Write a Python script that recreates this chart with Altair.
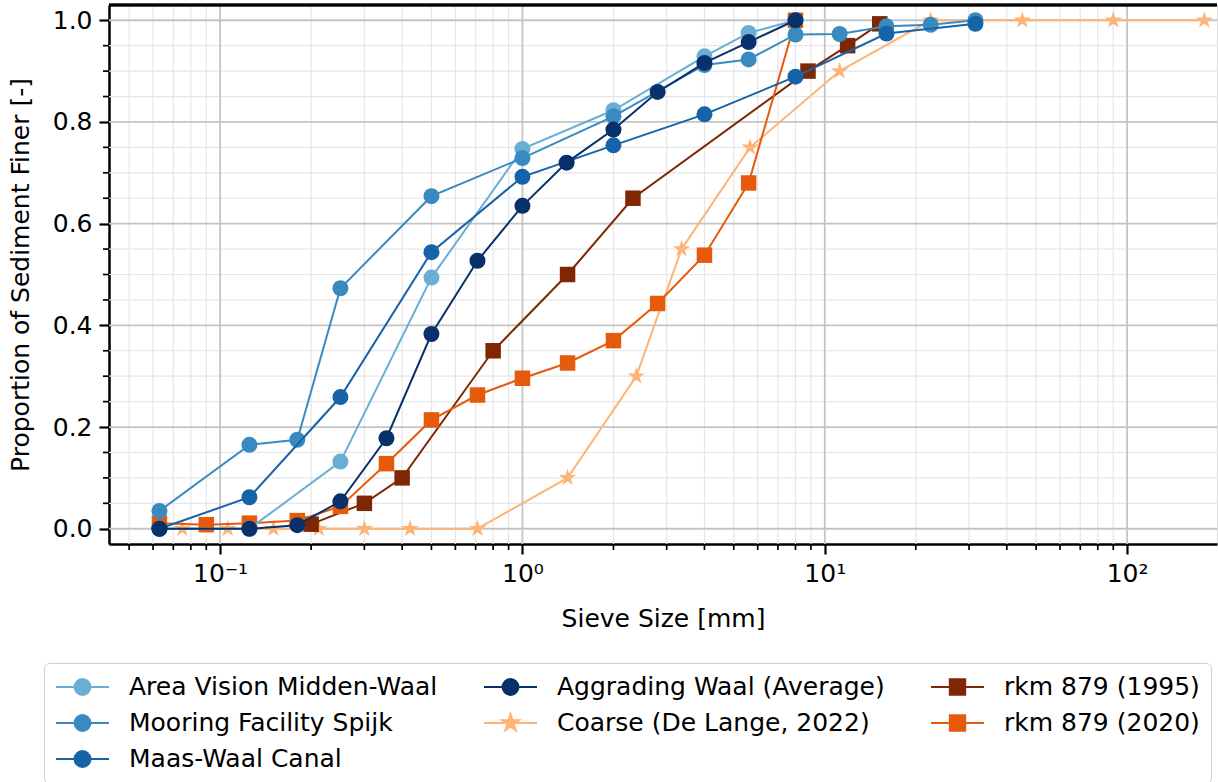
import math
import altair as alt
import pandas as pd

# ---------------------------------------------------------------------------
# Grain size distributions: sieve size [mm] vs. proportion of sediment finer
# ---------------------------------------------------------------------------
area_vision_x = [0.063, 0.125, 0.25, 0.5, 1.0, 2.0, 4.0, 5.6, 8.0]
area_vision_y = [0.0, 0.0, 0.132, 0.494, 0.747, 0.823, 0.929, 0.975, 1.0]

mooring_x = [0.063, 0.125, 0.18, 0.25, 0.5, 1.0, 2.0, 4.0, 5.6, 8.0, 11.2, 16.0, 22.4, 31.5]
mooring_y = [0.035, 0.165, 0.175, 0.473, 0.654, 0.729, 0.811, 0.912, 0.923, 0.972, 0.973, 0.988, 0.991, 1.0]

maas_waal_x = [0.063, 0.125, 0.25, 0.5, 1.0, 2.0, 4.0, 8.0, 16.0, 31.5]
maas_waal_y = [0.0, 0.062, 0.259, 0.544, 0.692, 0.754, 0.815, 0.889, 0.974, 0.993]

aggrading_x = [0.063, 0.125, 0.18, 0.25, 0.355, 0.5, 0.71, 1.0, 1.4, 2.0, 2.8, 4.0, 5.6, 8.0]
aggrading_y = [0.0, 0.0, 0.007, 0.054, 0.178, 0.383, 0.527, 0.635, 0.72, 0.785, 0.859, 0.916, 0.957, 1.0]

coarse_x = [0.075, 0.106, 0.15, 0.212, 0.3, 0.425, 0.71, 1.41, 2.38, 3.36, 5.66, 11.2, 22.4, 45.0, 90.0, 180.0]
coarse_y = [0.0, 0.0, 0.0, 0.0, 0.0, 0.0, 0.0, 0.1, 0.3, 0.55, 0.75, 0.9, 1.0, 1.0, 1.0, 1.0]

rkm1995_x = [0.2, 0.3, 0.4, 0.8, 1.41, 2.32, 8.8, 11.9, 15.2]
rkm1995_y = [0.009, 0.05, 0.1, 0.35, 0.5, 0.65, 0.9, 0.95, 0.993]

rkm2020_x = [0.063, 0.09, 0.125, 0.18, 0.25, 0.355, 0.5, 0.71, 1.0, 1.41, 2.0, 2.8, 4.0, 5.6, 8.0]
rkm2020_y = [0.011, 0.008, 0.011, 0.016, 0.044, 0.128, 0.214, 0.263, 0.296, 0.326, 0.37, 0.443, 0.538, 0.68, 1.0]

# axis ticks
x_tick_values = [0.1, 1, 10, 100]
x_tick_labels = ["10⁻¹", "10⁰", "10¹", "10²"]
y_tick_values = [0.0, 0.2, 0.4, 0.6, 0.8, 1.0]

# ---------------------------------------------------------------------------
# layout / style
# ---------------------------------------------------------------------------
W, H = 1108, 539
FONT = "DejaVu Sans"
FS = 25
X_DOMAIN = [0.0429, 198.3]
Y_DOMAIN = [-0.03, 1.03]

x_scale = alt.Scale(type="log", domain=X_DOMAIN, nice=False)
y_scale = alt.Scale(domain=Y_DOMAIN, nice=False, zero=False)


def star_path(r_out, r_in):
    pts = []
    for k in range(10):
        a = math.radians(-90 + 36 * k)
        r = r_out if k % 2 == 0 else r_in
        pts.append(f"{r * math.cos(a):.4f},{r * math.sin(a):.4f}")
    return "M" + "L".join(pts) + "Z"


STAR = star_path(1.0, 0.382)

# legend handles: a short line with the marker on top (unit box, scaled by symbolSize)
LINE = "M-1,0L1,0"
rc = 0.30
LEG_CIRCLE = LINE + f"M{rc},0A{rc},{rc},0,1,1,{-rc},0A{rc},{rc},0,1,1,{rc},0Z"
hs = 0.29
LEG_SQUARE = LINE + f"M{-hs},{-hs}L{hs},{-hs}L{hs},{hs}L{-hs},{hs}Z"
LEG_STAR = LINE + star_path(0.34, 0.13)

series_names = [
    "Area Vision Midden-Waal", "Mooring Facility Spijk", "Maas-Waal Canal",
    "Aggrading Waal (Average)", "Coarse (De Lange, 2022)", "rkm 879 (1995)",
    "rkm 879 (2020)",
]
series = {
    "Area Vision Midden-Waal": (area_vision_x, area_vision_y, "#6aaed6", "circle"),
    "Mooring Facility Spijk": (mooring_x, mooring_y, "#3a8ac2", "circle"),
    "Maas-Waal Canal": (maas_waal_x, maas_waal_y, "#1663aa", "circle"),
    "Aggrading Waal (Average)": (aggrading_x, aggrading_y, "#08306b", "circle"),
    "Coarse (De Lange, 2022)": (coarse_x, coarse_y, "#fdb477", "star"),
    "rkm 879 (1995)": (rkm1995_x, rkm1995_y, "#7f2704", "square"),
    "rkm 879 (2020)": (rkm2020_x, rkm2020_y, "#e65a0b", "square"),
}

marker_shape = {"circle": ("circle", 256), "square": ("square", 240), "star": (STAR, 330)}
legend_shape = {"circle": LEG_CIRCLE, "square": LEG_SQUARE, "star": LEG_STAR}

# The legend grid is filled column-wise over 3 rows, so this sequence gives the
# columns (Area, Mooring, Maas-Waal) (Aggrading, Coarse) (1995, 2020).
legend_values = [
    "Area Vision Midden-Waal", "Mooring Facility Spijk", "rkm 879 (2020)",
    "Aggrading Waal (Average)", "Coarse (De Lange, 2022)", "Maas-Waal Canal",
    "rkm 879 (1995)",
]
draw_order = [
    "Coarse (De Lange, 2022)", "rkm 879 (1995)", "rkm 879 (2020)",
    "Area Vision Midden-Waal", "Mooring Facility Spijk", "Maas-Waal Canal",
    "Aggrading Waal (Average)",
]

x_label_expr = ""
for v, t in zip(x_tick_values[:-1], x_tick_labels[:-1]):
    x_label_expr += f"datum.value < {v * 3} ? '{t}' : "
x_label_expr += f"'{x_tick_labels[-1]}'"

axis_common = dict(
    grid=False, tickSize=10, tickWidth=2.2, tickColor="black",
    domainColor="black", domainWidth=2.5, labelFont=FONT, labelFontSize=FS,
    labelColor="black", labelPadding=7, titleFont=FONT, titleFontSize=FS,
    titleFontWeight="normal", titleColor="black", labelFlush=False,
    labelOverlap=False,
)
x_axis = alt.Axis(values=x_tick_values, labelExpr=x_label_expr,
                  title="Sieve Size [mm]", titlePadding=20, **axis_common)
y_axis = alt.Axis(values=y_tick_values, format=".1f",
                  title="Proportion of Sediment Finer [-]", titlePadding=19,
                  **axis_common)


def xenc(field):
    return alt.X(field, type="quantitative", scale=x_scale, axis=x_axis)


def yenc(field):
    return alt.Y(field, type="quantitative", scale=y_scale, axis=y_axis)


# ---------------------------------------------------------------------------
# grid lines and minor ticks
# ---------------------------------------------------------------------------
x_minor = [m * 10.0 ** k for k in range(-2, 3) for m in range(2, 10)
           if X_DOMAIN[0] <= m * 10.0 ** k <= X_DOMAIN[1]]
y_minor = [round(0.05 * i, 2) for i in range(1, 20) if i % 4]

xmin_df = pd.DataFrame({"v": x_minor})
ymin_df = pd.DataFrame({"v": y_minor})
xmaj_df = pd.DataFrame({"v": x_tick_values})
ymaj_df = pd.DataFrame({"v": y_tick_values})

layers = []
layers.append(alt.Chart(xmin_df).mark_rule(color="#e6e6e6", strokeWidth=1.2).encode(x=xenc("v")))
layers.append(alt.Chart(ymin_df).mark_rule(color="#e6e6e6", strokeWidth=1.2).encode(y=yenc("v")))
layers.append(alt.Chart(xmaj_df).mark_rule(color="#c4c4c4", strokeWidth=1.8).encode(x=xenc("v")))
layers.append(alt.Chart(ymaj_df).mark_rule(color="#c4c4c4", strokeWidth=1.8).encode(y=yenc("v")))

# legend (driven by scales with explicit domains; no marks drawn)
legend = alt.Legend(
    title=None, orient="none", legendX=-65, legendY=658, columns=3,
    values=legend_values,
    symbolSize=53 * 53, symbolStrokeWidth=2, symbolOpacity=1,
    labelFont=FONT, labelFontSize=FS, labelColor="black", labelLimit=800,
    labelOffset=19, columnPadding=45, rowPadding=10, padding=11,
    clipHeight=26, strokeColor="#cfcfcf", fillColor="white", cornerRadius=5,
)
leg_colors = [series[n][2] for n in series_names]
leg_shapes = [legend_shape[series[n][3]] for n in series_names]
leg_df = pd.DataFrame({"series": series_names})
layers.append(
    alt.Chart(leg_df).mark_point(filled=True, opacity=1).encode(
        color=alt.Color("series:N", scale=alt.Scale(domain=series_names, range=leg_colors), legend=legend),
        stroke=alt.Stroke("series:N", scale=alt.Scale(domain=series_names, range=leg_colors), legend=legend),
        shape=alt.Shape("series:N", scale=alt.Scale(domain=series_names, range=leg_shapes), legend=legend),
    ).transform_filter("false")
)

# data series
for name in draw_order:
    xs, ys, col, kind = series[name]
    df = pd.DataFrame({"size_mm": xs, "finer": ys})
    shp, sz = marker_shape[kind]
    base = alt.Chart(df)
    layers.append(base.mark_line(color=col, strokeWidth=2).encode(
        x=xenc("size_mm"), y=yenc("finer")))
    layers.append(base.mark_point(filled=True, opacity=1, color=col, shape=shp, size=sz,
                                  strokeWidth=0).encode(x=xenc("size_mm"), y=yenc("finer")))

# minor tick marks and top frame line
layers.append(alt.Chart(xmin_df).mark_rule(color="black", strokeWidth=1.7).encode(
    x=xenc("v"), y=alt.value(H), y2=alt.value(H + 6)))
layers.append(alt.Chart(ymin_df).mark_rule(color="black", strokeWidth=1.7).encode(
    y=yenc("v"), x=alt.value(0), x2=alt.value(-6)))
layers.append(alt.Chart(xmaj_df).mark_rule(color="black", strokeWidth=2.5).encode(
    x=alt.value(0), x2=alt.value(W), y=alt.value(0)))

chart = alt.layer(*layers).properties(
    width=W, height=H,
    autosize=alt.AutoSizeParams(type="none"),
    padding={"left": 109, "top": 5, "right": 1, "bottom": 238},
).configure_view(stroke=None).configure(background="white")

chart.save("out.html", embed_options={"renderer": "svg", "actions": False})
